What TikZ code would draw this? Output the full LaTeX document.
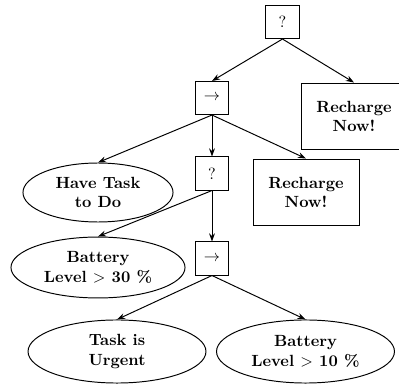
\documentclass[tikz,border=0pt]{standalone}
\usetikzlibrary{arrows.meta,shapes.geometric}
\begin{document}
\begin{tikzpicture}[x=0.617pt,y=-0.617pt,line width=0.6pt,
  ctrl/.style={draw,minimum width=20.4pt,minimum height=20.4pt,inner sep=0pt},
  act/.style={draw,align=center,font=\bfseries,minimum width=65.4pt,minimum height=41.3pt,inner sep=0pt},
  cond/.style={draw,ellipse,align=center,font=\bfseries,inner sep=0pt},
  edge/.style={-{Stealth[length=5pt,width=3.6pt]},line width=0.6pt}]
\useasboundingbox (0,0) rectangle (399,385);
\clip (0,0) rectangle (399,385);
\node[ctrl] (q1) at (282.5,22) {?};
\node[ctrl] (s1) at (212,98) {$\rightarrow$};
\node[act] (r1) at (354,116.5) {Recharge\\Now!};
\node[cond,minimum width=92.6pt,minimum height=36.4pt] (have) at (98,192.5) {Have Task\\to Do};
\node[ctrl] (q2) at (212,173.5) {?};
\node[act] (r2) at (306,192.5) {Recharge\\Now!};
\node[cond,minimum width=107.4pt,minimum height=37.6pt] (b30) at (98,267.5) {Battery\\Level $>$ 30 \%};
\node[ctrl] (s2) at (212,258.5) {$\rightarrow$};
\node[cond,minimum width=109.8pt,minimum height=38.9pt] (urg) at (117,351.5) {Task is\\Urgent};
\node[cond,minimum width=109.8pt,minimum height=38.9pt] (b10) at (305.5,351.5) {Battery\\Level $>$ 10 \%};
\draw[edge] (q1.south) -- (s1.north);
\draw[edge] (q1.south) -- (r1.north);
\draw[edge] (s1.south) -- (have.north);
\draw[edge] (s1.south) -- (q2.north);
\draw[edge] (s1.south) -- (r2.north);
\draw[edge] (q2.south) -- (b30.north);
\draw[edge] (q2.south) -- (s2.north);
\draw[edge] (s2.south) -- (urg.north);
\draw[edge] (s2.south) -- (b10.north);
\end{tikzpicture}
\end{document}
